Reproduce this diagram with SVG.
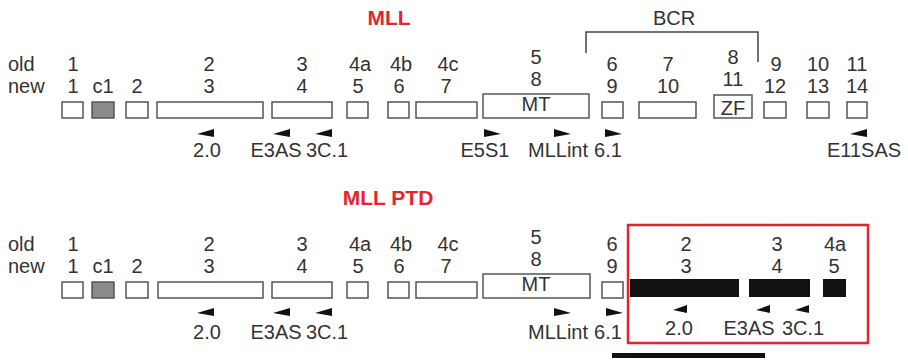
<svg xmlns="http://www.w3.org/2000/svg" xmlns:xlink="http://www.w3.org/1999/xlink" width="908" height="360" viewBox="0 0 908 360">
<style>
  .t { font-family: "Liberation Sans", Arial, sans-serif; font-size: 20px; fill: #333333; text-anchor: middle; }
  .l { text-anchor: start; }
  .title { font-family: "Liberation Sans", Arial, sans-serif; font-size: 21px; font-weight: bold; fill: #e3262d; text-anchor: middle; }
  .ex { fill: #ffffff; stroke: #555555; stroke-width: 1.5; }
  .gr { fill: #8a8a8a; stroke: #555555; stroke-width: 1.5; }
  .bk { fill: #111111; }
  .pr { fill: #111111; }
</style>
<defs>
  <path id="al" d="M0,1 L17,-4 L17,4 Z"/>
  <path id="ar" d="M17,1 L0,-4 L0,4 Z"/>
  <path id="als" d="M0,1 L14,-4 L14,4 Z"/>
</defs>

<g id="mll">
  <text class="title" x="389" y="25">MLL</text>
  <g id="bcr">
    <path d="M586,53 V32 H758 V62" fill="none" stroke="#444" stroke-width="1.5"/>
    <text class="t" x="674" y="25">BCR</text>
  </g>
  <g id="mll-labels">
    <text class="t l" x="8" y="71">old</text>
    <text class="t l" x="8" y="93">new</text>
    <text class="t" x="73" y="71">1</text><text class="t" x="73" y="93">1</text>
    <text class="t" x="103" y="93">c1</text>
    <text class="t" x="137" y="93">2</text>
    <text class="t" x="209" y="71">2</text><text class="t" x="209" y="93">3</text>
    <text class="t" x="302" y="71">3</text><text class="t" x="302" y="93">4</text>
    <text class="t" x="360" y="71">4a</text><text class="t" x="358" y="93">5</text>
    <text class="t" x="401" y="71">4b</text><text class="t" x="399" y="93">6</text>
    <text class="t" x="448" y="71">4c</text><text class="t" x="446" y="93">7</text>
    <text class="t" x="536" y="64">5</text><text class="t" x="536" y="86">8</text>
    <text class="t" x="612" y="71">6</text><text class="t" x="612" y="93">9</text>
    <text class="t" x="668" y="71">7</text><text class="t" x="668" y="93">10</text>
    <text class="t" x="733" y="64">8</text><text class="t" x="733" y="86">11</text>
    <text class="t" x="776" y="71">9</text><text class="t" x="775" y="93">12</text>
    <text class="t" x="818" y="71">10</text><text class="t" x="818" y="93">13</text>
    <text class="t" x="857" y="71">11</text><text class="t" x="857" y="93">14</text>
  </g>
  <g id="mll-exons">
    <rect class="ex" x="62" y="102" width="21" height="16"/>
    <rect class="gr" x="92" y="102" width="22" height="16"/>
    <rect class="ex" x="126" y="102" width="22" height="16"/>
    <rect class="ex" x="157" y="102" width="106" height="16"/>
    <rect class="ex" x="272" y="102" width="60" height="16"/>
    <rect class="ex" x="347" y="102" width="21" height="16"/>
    <rect class="ex" x="388" y="102" width="21" height="16"/>
    <rect class="ex" x="416" y="102" width="61" height="16"/>
    <rect class="ex" x="483" y="94" width="106" height="24"/>
    <text class="t" x="536" y="111">MT</text>
    <rect class="ex" x="602" y="102" width="21" height="16"/>
    <rect class="ex" x="639" y="102" width="57" height="16"/>
    <rect class="ex" x="714" y="95" width="38" height="23"/>
    <text class="t" x="733" y="115">ZF</text>
    <rect class="ex" x="764" y="102" width="22" height="16"/>
    <rect class="ex" x="807" y="102" width="22" height="16"/>
    <rect class="ex" x="847" y="102" width="20" height="16"/>
  </g>
  <g id="mll-primers">
    <use href="#al" xlink:href="#al" class="pr" x="197" y="133"/>
    <use href="#al" xlink:href="#al" class="pr" x="273" y="133"/>
    <use href="#al" xlink:href="#al" class="pr" x="315" y="133"/>
    <use href="#ar" xlink:href="#ar" class="pr" x="484" y="133"/>
    <use href="#ar" xlink:href="#ar" class="pr" x="554" y="133"/>
    <use href="#ar" xlink:href="#ar" class="pr" x="605" y="133"/>
    <use href="#al" xlink:href="#al" class="pr" x="850" y="133"/>
    <text class="t" x="207" y="157">2.0</text>
    <text class="t" x="276" y="157">E3AS</text>
    <text class="t" x="327" y="157">3C.1</text>
    <text class="t" x="485" y="157">E5S1</text>
    <text class="t" x="558" y="157">MLLint</text>
    <text class="t" x="608" y="157">6.1</text>
    <text class="t" x="864" y="157">E11SAS</text>
  </g>
</g>

<g id="mll-ptd">
  <text class="title" x="388" y="205">MLL PTD</text>
  <g id="ptd-labels">
    <text class="t l" x="8" y="251">old</text>
    <text class="t l" x="8" y="273">new</text>
    <text class="t" x="73" y="251">1</text><text class="t" x="73" y="273">1</text>
    <text class="t" x="103" y="273">c1</text>
    <text class="t" x="137" y="273">2</text>
    <text class="t" x="209" y="251">2</text><text class="t" x="209" y="273">3</text>
    <text class="t" x="302" y="251">3</text><text class="t" x="302" y="273">4</text>
    <text class="t" x="360" y="251">4a</text><text class="t" x="358" y="273">5</text>
    <text class="t" x="401" y="251">4b</text><text class="t" x="399" y="273">6</text>
    <text class="t" x="448" y="251">4c</text><text class="t" x="446" y="273">7</text>
    <text class="t" x="536" y="244">5</text><text class="t" x="536" y="266">8</text>
    <text class="t" x="612" y="251">6</text><text class="t" x="612" y="273">9</text>
    <text class="t" x="686" y="251">2</text><text class="t" x="686" y="273">3</text>
    <text class="t" x="777" y="251">3</text><text class="t" x="777" y="273">4</text>
    <text class="t" x="835" y="251">4a</text><text class="t" x="834" y="273">5</text>
  </g>
  <g id="ptd-exons">
    <rect class="ex" x="62" y="282" width="21" height="16"/>
    <rect class="gr" x="92" y="282" width="22" height="16"/>
    <rect class="ex" x="126" y="282" width="22" height="16"/>
    <rect class="ex" x="158" y="282" width="105" height="16"/>
    <rect class="ex" x="272" y="282" width="60" height="16"/>
    <rect class="ex" x="347" y="282" width="21" height="16"/>
    <rect class="ex" x="388" y="282" width="21" height="16"/>
    <rect class="ex" x="416" y="282" width="61" height="16"/>
    <rect class="ex" x="483" y="274" width="107" height="24"/>
    <text class="t" x="536" y="291">MT</text>
    <rect class="ex" x="602" y="282" width="21" height="16"/>
    <rect class="bk" x="630" y="279" width="109" height="18"/>
    <rect class="bk" x="749" y="279" width="61" height="18"/>
    <rect class="bk" x="823" y="279" width="23" height="18"/>
  </g>
  <g id="ptd-primers">
    <use href="#al" xlink:href="#al" class="pr" x="197" y="312"/>
    <use href="#al" xlink:href="#al" class="pr" x="273" y="312"/>
    <use href="#al" xlink:href="#al" class="pr" x="315" y="312"/>
    <use href="#ar" xlink:href="#ar" class="pr" x="554" y="312"/>
    <use href="#ar" xlink:href="#ar" class="pr" x="606" y="312"/>
    <use href="#als" xlink:href="#als" class="pr" x="673" y="309"/>
    <use href="#als" xlink:href="#als" class="pr" x="756" y="309"/>
    <use href="#als" xlink:href="#als" class="pr" x="795" y="309"/>
    <text class="t" x="207" y="339">2.0</text>
    <text class="t" x="276" y="339">E3AS</text>
    <text class="t" x="327" y="339">3C.1</text>
    <text class="t" x="558" y="339">MLLint</text>
    <text class="t" x="608" y="339">6.1</text>
    <text class="t" x="679" y="335">2.0</text>
    <text class="t" x="749" y="335">E3AS</text>
    <text class="t" x="803" y="335">3C.1</text>
  </g>
  <g id="ptd-box">
    <rect x="628" y="225" width="240" height="118" fill="none" stroke="#e3262d" stroke-width="2.5"/>
  </g>
  <g id="ptd-bar">
    <rect x="612" y="353" width="153" height="5" fill="#111111"/>
  </g>
</g>
</svg>
